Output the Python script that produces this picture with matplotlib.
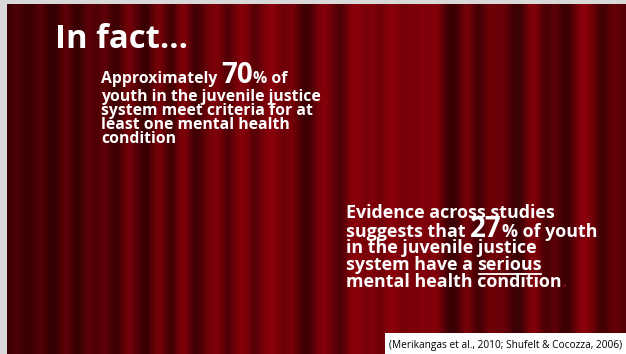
import matplotlib
matplotlib.use("Agg")
import matplotlib.pyplot as plt
import numpy as np
from matplotlib.colors import LinearSegmentedColormap
from matplotlib.patches import Rectangle

# ---- content ----
title = "In fact\u2026"
para1_first = ["Approximately ", "70", "% of"]
para1_rest = ["youth in the juvenile justice",
              "system meet criteria for at",
              "least one mental health",
              "condition"]
para2_first = "Evidence across studies"
para2_second = ["suggests that ", "27", "% of youth"]
para2_rest = ["in the juvenile justice"]
para2_fourth = ["system have a ", "serious"]
para2_last = ["mental health condition", "."]
citation = "(Merikangas et al., 2010; Shufelt & Cocozza, 2006)"

# curtain stripe brightness (decorative background), left -> right
stripes_left = [0.25, 0.45, 0.3, 0.2, 0.35, 0.5, 0.25, 0.15, 0.4, 0.6, 0.3, 0.2, 0.45]
stripes_midl = [0.55, 0.35, 0.6, 0.4, 0.2, 0.5, 0.75, 0.5, 0.3, 0.2, 0.6, 0.8, 0.4,
                0.25, 0.7, 0.85, 0.4, 0.25, 0.55]
stripes_midr = [0.7, 0.8, 0.6, 0.35, 0.7, 0.85, 0.75, 0.4, 0.6, 0.8, 0.9, 0.7, 0.6,
                0.8, 0.5, 0.25, 0.3, 0.65, 0.85, 0.75, 0.5, 0.35, 0.7, 0.9, 0.8, 0.7,
                0.85, 0.6, 0.75, 0.9, 0.8, 0.65, 0.8, 0.7]
stripes_right = [0.85, 0.7, 0.9, 0.6, 0.3, 0.2, 0.45, 0.8, 0.5, 0.25, 0.55, 0.7, 0.6,
                 0.65, 0.4, 0.2, 0.35, 0.75, 0.85, 0.5, 0.3, 0.6, 0.35, 0.2, 0.45, 0.8,
                 0.9, 0.7, 0.4, 0.25, 0.55, 0.6, 0.45]
stripes = stripes_left + stripes_midl + stripes_midr + stripes_right

W, H = 626, 354
fig = plt.figure(figsize=(W / 100, H / 100), dpi=100)
fig.patch.set_facecolor("#d9d9d9")
ax = fig.add_axes([0, 0, 1, 1])
ax.set_xlim(0, W)
ax.set_ylim(H, 0)
ax.axis("off")

cmap = LinearSegmentedColormap.from_list(
    "curtain", ["#1a0002", "#440004", "#700008", "#9c000c"])
img = np.array([stripes])
ax.imshow(img, cmap=cmap, vmin=0, vmax=1, extent=[7, W, H, 4],
          aspect="auto", interpolation="bicubic", zorder=0)

FONT = "Open Sans"
fig.canvas.draw()
renderer = fig.canvas.get_renderer()


def fit_size(txt, target_px, family=FONT, weight="bold"):
    t = ax.text(0, 0, txt, fontsize=10, family=family, fontweight=weight)
    w = t.get_window_extent(renderer=renderer).width
    t.remove()
    return 10 * target_px / w


def put_run(pieces, x, y, sizes, colors=None, weight="bold"):
    """Draw a sequence of text pieces on a common baseline; return artists."""
    arts = []
    colors = colors or ["white"] * len(pieces)
    for txt, sz, c in zip(pieces, sizes, colors):
        t = ax.text(x, y, txt, fontsize=sz, color=c, fontweight=weight,
                    family=FONT, va="baseline", ha="left", zorder=3)
        bb = t.get_window_extent(renderer=renderer)
        x += bb.width
        arts.append(t)
    return arts


# Title
st = fit_size(title, 133)
ax.text(55, 48, title, fontsize=st, color="white", fontweight="bold",
        family=FONT, va="baseline", ha="left", zorder=3)

# Paragraph 1
s1 = fit_size(para1_rest[0], 220)
put_run(para1_first, 101, 83, [s1, 20, s1])
y = 101
for line in para1_rest:
    put_run([line], 101, y, [s1])
    y += 14

# Paragraph 2
s2 = fit_size(para2_first, 210)
x2 = 346
put_run([para2_first], x2, 218, [s2])
put_run(para2_second, x2, 237, [s2, 20, s2])
put_run(para2_rest, x2, 253, [s2])
arts = put_run(para2_fourth, x2, 270, [s2, s2])
bb = arts[-1].get_window_extent(renderer=renderer)
ax.plot([bb.x0 + 1, bb.x1 - 1], [273.5, 273.5], color="white", lw=1.3, zorder=3)
put_run(para2_last, x2, 287, [s2, s2], colors=["white", "#7a0a10"])

# Citation box
ax.add_patch(Rectangle((385, 333), W - 385, H - 333, facecolor="white",
                       edgecolor="none", zorder=2))
sc = fit_size(citation, 233, family="Open Sans", weight="normal")
ax.text(389, 348, citation, fontsize=sc, color="black", family="Open Sans",
        va="baseline", ha="left", zorder=3)

fig.savefig("out.png", dpi=100, facecolor=fig.get_facecolor())
